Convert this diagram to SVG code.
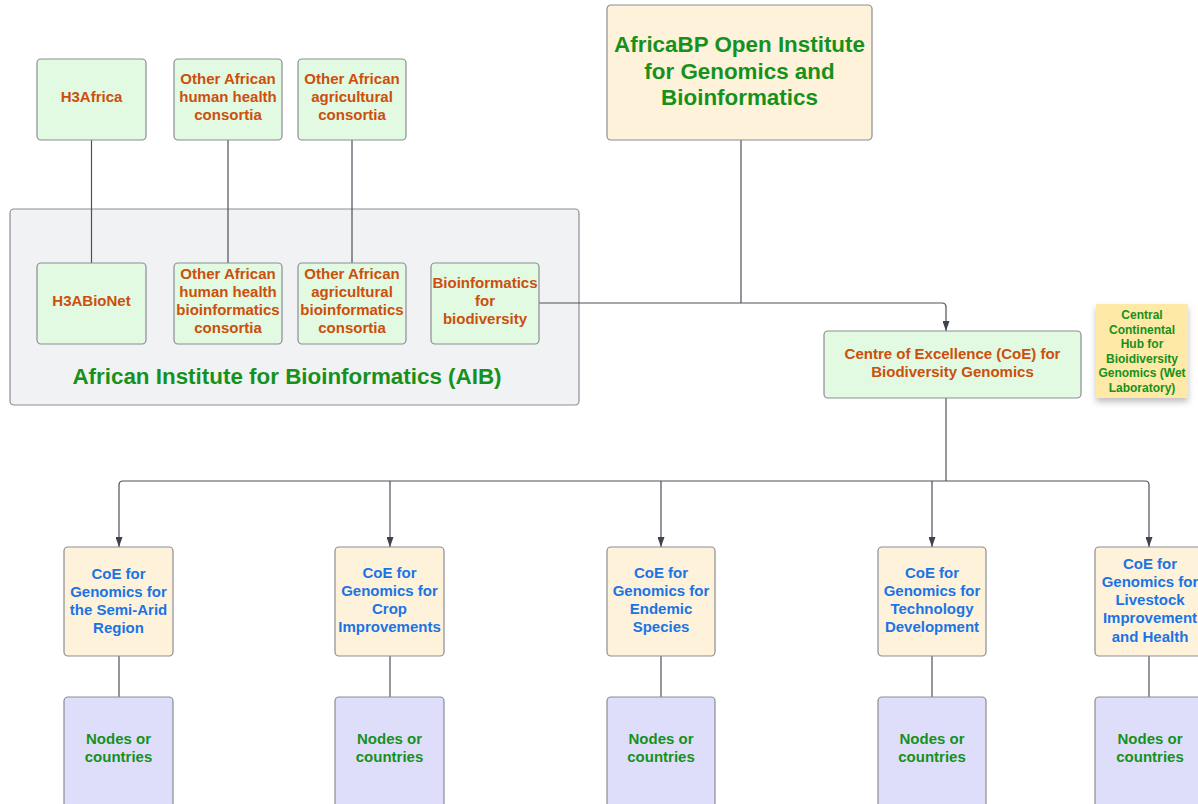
<svg xmlns="http://www.w3.org/2000/svg" width="1198" height="804" viewBox="0 0 1198 804">
<style>
text{font-family:"Liberation Sans",Arial,sans-serif;font-weight:bold;text-anchor:middle}
.box{stroke:#8a8d93;stroke-width:1.2}
.g{fill:#e2f9e2}
.y{fill:#fef2db}
.p{fill:#dedefb}
.or{fill:#cc4f0c;font-size:15px}
.gr{fill:#16911b}
.bl{fill:#1b74e4;font-size:15px}
.c{fill:none;stroke:#4b505a;stroke-width:1.2}
</style>
<defs>
<marker id="ar" viewBox="0 0 10 7" refX="10" refY="3.5" markerWidth="10" markerHeight="7" markerUnits="userSpaceOnUse" orient="auto">
<path d="M0,0 L10,3.5 L0,7 z" fill="#3d424c"/>
</marker>
<filter id="sh" x="-20%" y="-20%" width="140%" height="150%">
<feDropShadow dx="0" dy="4" stdDeviation="3" flood-color="#000" flood-opacity="0.25"/>
</filter>
</defs>
<rect width="1198" height="804" fill="#fff"/>
<g id="aib">
<rect x="10" y="209" width="569" height="196" rx="4" fill="#f1f2f4" stroke="#8a8d93" stroke-width="1.2"/>
<text x="287" y="384" class="gr" font-size="22.4">African Institute for Bioinformatics (AIB)</text>
</g>
<g id="connectors">
<path class="c" d="M91.5,140 V263"/>
<path class="c" d="M228,140 V263"/>
<path class="c" d="M352,140 V263"/>
<path class="c" d="M741,140 V303"/>
<path class="c" d="M539,303 H942 Q946,303 946,307 V331" marker-end="url(#ar)"/>
<path class="c" d="M946,398 V481"/>
<path class="c" d="M1145,481 H123 Q119,481 119,485 V547" marker-end="url(#ar)"/>
<path class="c" d="M1145,481 Q1149,481 1149,485 V547" marker-end="url(#ar)"/>
<path class="c" d="M390,481 V547" marker-end="url(#ar)"/>
<path class="c" d="M661,481 V547" marker-end="url(#ar)"/>
<path class="c" d="M932,481 V547" marker-end="url(#ar)"/>
<path class="c" d="M119,656 V697"/>
<path class="c" d="M390,656 V697"/>
<path class="c" d="M661,656 V697"/>
<path class="c" d="M932,656 V697"/>
<path class="c" d="M1149,656 V697"/>
</g>
<g id="h3africa"><rect class="box g" x="37" y="59" width="109" height="81" rx="4"/><text class="or" x="91.5" y="102">H3Africa</text></g>
<g id="other-human"><rect class="box g" x="174" y="59" width="108" height="81" rx="4"/><text class="or" x="228" y="84">Other African</text><text class="or" x="228" y="102">human health</text><text class="or" x="228" y="120">consortia</text></g>
<g id="other-agri"><rect class="box g" x="298" y="59" width="108" height="81" rx="4"/><text class="or" x="352" y="84">Other African</text><text class="or" x="352" y="102">agricultural</text><text class="or" x="352" y="120">consortia</text></g>
<g id="h3abionet"><rect class="box g" x="37" y="263" width="109" height="81" rx="4"/><text class="or" x="91.5" y="306">H3ABioNet</text></g>
<g id="other-human-bio"><rect class="box g" x="174" y="263" width="108" height="81" rx="4"/><text class="or" x="228" y="279">Other African</text><text class="or" x="228" y="297">human health</text><text class="or" x="228" y="315">bioinformatics</text><text class="or" x="228" y="333">consortia</text></g>
<g id="other-agri-bio"><rect class="box g" x="298" y="263" width="108" height="81" rx="4"/><text class="or" x="352" y="279">Other African</text><text class="or" x="352" y="297">agricultural</text><text class="or" x="352" y="315">bioinformatics</text><text class="or" x="352" y="333">consortia</text></g>
<g id="bio-biodiv"><rect class="box g" x="431" y="263" width="108" height="81" rx="4"/><text class="or" x="485" y="288">Bioinformatics</text><text class="or" x="485" y="306">for</text><text class="or" x="485" y="324">biodiversity</text></g>
<g id="africabp"><rect class="box y" x="607" y="5" width="265" height="135" rx="4"/><text class="gr" font-size="22.4" x="739.5" y="52">AfricaBP Open Institute</text><text class="gr" font-size="22.4" x="739.5" y="79">for Genomics and</text><text class="gr" font-size="22.4" x="739.5" y="105">Bioinformatics</text></g>
<g id="coe-biodiv"><rect class="box g" x="824" y="331" width="257" height="67" rx="4"/><text class="or" x="952.5" y="359">Centre of Excellence (CoE) for</text><text class="or" x="952.5" y="377">Biodiversity Genomics</text></g>
<g id="hub"><rect x="1096" y="304" width="92" height="94" fill="#ffe9a6" filter="url(#sh)"/><g class="gr" font-size="12"><text x="1142" y="319">Central</text><text x="1142" y="333.5">Continental</text><text x="1142" y="348">Hub for</text><text x="1142" y="362.5">Bioidiversity</text><text x="1142" y="377">Genomics (Wet</text><text x="1142" y="391.5">Laboratory)</text></g></g>
<g id="coe-semiarid"><rect class="box y" x="64" y="547" width="109" height="109" rx="4"/><text class="bl" x="118.5" y="579">CoE for</text><text class="bl" x="118.5" y="597">Genomics for</text><text class="bl" x="118.5" y="615">the Semi-Arid</text><text class="bl" x="118.5" y="633">Region</text></g>
<g id="coe-crop"><rect class="box y" x="335" y="547" width="109" height="109" rx="4"/><text class="bl" x="389.5" y="578">CoE for</text><text class="bl" x="389.5" y="596">Genomics for</text><text class="bl" x="389.5" y="614">Crop</text><text class="bl" x="389.5" y="632">Improvements</text></g>
<g id="coe-endemic"><rect class="box y" x="607" y="547" width="108" height="109" rx="4"/><text class="bl" x="661" y="578">CoE for</text><text class="bl" x="661" y="596">Genomics for</text><text class="bl" x="661" y="614">Endemic</text><text class="bl" x="661" y="632">Species</text></g>
<g id="coe-tech"><rect class="box y" x="878" y="547" width="108" height="109" rx="4"/><text class="bl" x="932" y="578">CoE for</text><text class="bl" x="932" y="596">Genomics for</text><text class="bl" x="932" y="614">Technology</text><text class="bl" x="932" y="632">Development</text></g>
<g id="coe-livestock"><rect class="box y" x="1095" y="547" width="110" height="109" rx="4"/><text class="bl" x="1150" y="569">CoE for</text><text class="bl" x="1150" y="587">Genomics for</text><text class="bl" x="1150" y="605">Livestock</text><text class="bl" x="1150" y="623">Improvement</text><text class="bl" x="1150" y="642">and Health</text></g>
<g id="nodes1"><rect class="box p" x="64" y="697" width="109" height="115" rx="4"/><text class="gr" font-size="15" x="118.5" y="744">Nodes or</text><text class="gr" font-size="15" x="118.5" y="762">countries</text></g>
<g id="nodes2"><rect class="box p" x="335" y="697" width="109" height="115" rx="4"/><text class="gr" font-size="15" x="389.5" y="744">Nodes or</text><text class="gr" font-size="15" x="389.5" y="762">countries</text></g>
<g id="nodes3"><rect class="box p" x="607" y="697" width="108" height="115" rx="4"/><text class="gr" font-size="15" x="661" y="744">Nodes or</text><text class="gr" font-size="15" x="661" y="762">countries</text></g>
<g id="nodes4"><rect class="box p" x="878" y="697" width="108" height="115" rx="4"/><text class="gr" font-size="15" x="932" y="744">Nodes or</text><text class="gr" font-size="15" x="932" y="762">countries</text></g>
<g id="nodes5"><rect class="box p" x="1095" y="697" width="110" height="115" rx="4"/><text class="gr" font-size="15" x="1150" y="744">Nodes or</text><text class="gr" font-size="15" x="1150" y="762">countries</text></g>
</svg>
